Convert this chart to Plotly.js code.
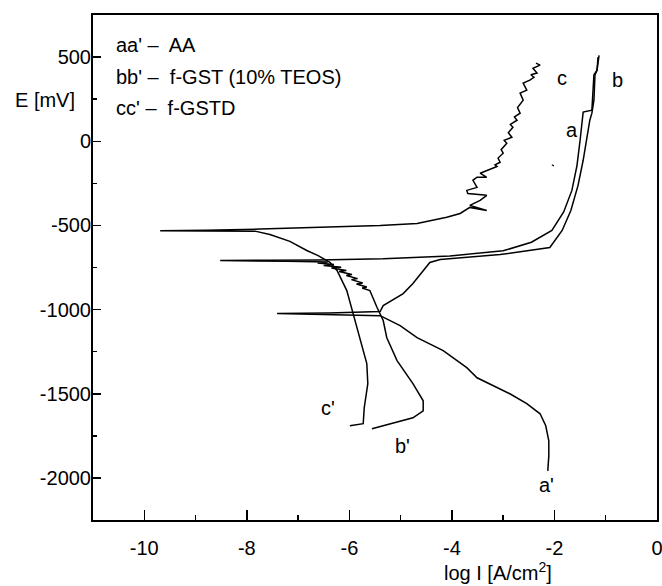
<!DOCTYPE html>
<html><head><meta charset="utf-8">
<script src="https://cdn.plot.ly/plotly-3.0.1.min.js"></script>
<style>html,body{margin:0;padding:0;background:#fff}#chart{width:662px;height:586px}</style>
</head><body><div id="chart"></div>
<script>
// Sample names (legend text)
const seriesKeys = ["aa'", "bb'", "cc'"];
const seriesNames = ["AA", "f-GST (10% TEOS)", "f-GSTD"];
const curveLabels = ["a", "a'", "b", "b'", "c", "c'"];

// Tick values and labels
const xTickVals = [-10, -8, -6, -4, -2, 0];
const xTickText = ["-10", "-8", "-6", "-4", "-2", "0"];
const yTickVals = [-2000, -1500, -1000, -500, 0, 500];
const yTickText = ["-2000", "-1500", "-1000", "-500", "0", "500"];

// AA: cathodic a' (bottom -> Ecorr), then anodic a
const aaLogI = [-2.13,-2.11,-2.11,-2.17,-2.28,-2.54,-2.87,-3.26,-3.51,-3.71,-4.17,-4.68,-5.01,-5.40,-6.4,-7.41,-6.4,-5.40,-5.34,-4.95,-4.76,-4.56,-4.43,-4.23,-3.06,-2.09,-1.85,-1.68,-1.54,-1.44,-1.37,-1.31,-1.27,-1.23,-1.21,-1.17,-1.13];
const aaE    = [-1958,-1869,-1780,-1690,-1619,-1559,-1500,-1440,-1405,-1345,-1244,-1167,-1095,-1036,-1028,-1024,-1020,-1012,-976,-905,-845,-768,-720,-702,-673,-631,-530,-411,-262,-113,6,125,167,244,393,423,510];

// f-GST (10% TEOS): cathodic b', then anodic b
const bbLogI = [-5.56,-5.21,-4.76,-4.56,-4.56,-4.76,-5.07,-5.27,-5.34,-5.46,-5.60,-5.75,-5.66,-5.86,-5.74,-5.96,-5.84,-6.06,-5.95,-6.20,-6.06,-6.35,-6.16,-6.50,-6.30,-6.62,-6.42,-7.2,-8.52,-7.6,-6.6,-5.34,-4.04,-3.00,-2.45,-2.05,-1.82,-1.66,-1.56,-1.50,-1.46,-1.44,-1.27,-1.25,-1.23,-1.17,-1.15];
const bbE    = [-1708,-1678,-1643,-1601,-1542,-1440,-1303,-1167,-1065,-988,-887,-872,-866,-848,-842,-822,-816,-798,-792,-774,-768,-753,-748,-738,-732,-724,-718,-713,-709,-707,-705,-698,-681,-651,-600,-530,-420,-292,-143,6,125,173,185,274,395,420,500];

// f-GSTD: cathodic c', then anodic c
const ccLogI = [-5.99,-5.73,-5.71,-5.67,-5.64,-5.66,-5.73,-5.85,-5.93,-6.05,-6.24,-6.38,-6.61,-6.83,-7.16,-7.55,-7.84,-8.8,-9.69,-8.8,-7.74,-6.38,-5.40,-4.68,-4.10,-3.84,-3.65,-3.32,-3.65,-3.45,-3.32,-3.69,-3.71,-3.51,-3.59,-3.51,-3.32,-3.45,-3.20,-3.12,-3.16,-3.06,-3.10,-3.00,-3.04,-2.93,-2.98,-2.83,-2.90,-2.81,-2.86,-2.73,-2.78,-2.67,-2.72,-2.61,-2.67,-2.54,-2.61,-2.48,-2.40,-2.46,-2.34,-2.42,-2.28,-2.36];
const ccE    = [-1690,-1678,-1583,-1482,-1440,-1321,-1244,-1107,-1024,-887,-768,-720,-679,-649,-595,-554,-534,-533,-531,-529,-522,-508,-500,-488,-452,-429,-393,-411,-381,-351,-321,-310,-292,-274,-232,-214,-214,-190,-161,-150,-140,-125,-100,-71,-50,-12,5,24,50,83,100,125,145,167,200,244,286,304,345,363,380,395,405,434,452,464];

// stray point in the data
const strayLogI = [-2.05,-2.01];
const strayE = [-140,-147];

const ln = {color:'#000', width:1.5};
const traces = [
  {x:aaLogI, y:aaE, mode:'lines', line:ln, name:seriesNames[0]},
  {x:bbLogI, y:bbE, mode:'lines', line:ln, name:seriesNames[1]},
  {x:ccLogI, y:ccE, mode:'lines', line:ln, name:seriesNames[2]},
  {x:strayLogI, y:strayE, mode:'lines', line:{color:'#000', width:1.2}, showlegend:false}
];

const F = {family:'"Liberation Sans", Arial, sans-serif', size:20, color:'#000'};
const labelPos = {"a":[-1.66,65], "a'":[-2.15,-2042], "b":[-0.78,363], "b'":[-4.97,-1809], "c":[-1.85,375], "c'":[-6.42,-1583]};
const legendY = [571, 381, 199];

const ann = [];
curveLabels.forEach(k => ann.push({x:labelPos[k][0], y:labelPos[k][1], xref:'x', yref:'y', text:k, showarrow:false, font:F, xanchor:'center', yanchor:'middle'}));
seriesKeys.forEach((k,i) => ann.push({x:-10.59, y:legendY[i], xref:'x', yref:'y', text:k + ' \u2013  ' + seriesNames[i], showarrow:false, font:F, xanchor:'left', yanchor:'middle'}));
ann.push({x:-0.085, y:0.832, xref:'paper', yref:'paper', text:'E [mV]', showarrow:false, font:F, xanchor:'center', yanchor:'middle'});
ann.push({x:0.718, y:-0.128, xref:'paper', yref:'paper', text:'log I [A/cm<sup>2</sup>]', showarrow:false, font:F, xanchor:'center', yanchor:'bottom', borderpad:0});

const layout = {
  width:662, height:586,
  margin:{l:93, r:5, t:15, b:66},
  paper_bgcolor:'#fff', plot_bgcolor:'#fff',
  showlegend:false,
  font:F,
  xaxis:{range:[-11,0], tickmode:'array', tickvals:xTickVals, ticktext:xTickText, ticks:'inside', ticklen:10, tickwidth:1.5, tickcolor:'#000',
         showline:true, linewidth:2, linecolor:'#000', mirror:true, showgrid:false, zeroline:false,
         tickfont:F, ticklabelstandoff:9, ticklabeloverflow:'allow',
         minor:{dtick:1, ticks:'inside', ticklen:5, tickwidth:1.5, tickcolor:'#000', showgrid:false}},
  yaxis:{range:[-2250,750], tickmode:'array', tickvals:yTickVals, ticktext:yTickText, ticks:'inside', ticklen:8, tickwidth:1.5, tickcolor:'#000',
         showline:true, linewidth:2, linecolor:'#000', mirror:true, showgrid:false, zeroline:false,
         tickfont:F, ticklabelstandoff:-4, ticklabeloverflow:'allow',
         minor:{dtick:250, ticks:'inside', ticklen:4, tickwidth:1.5, tickcolor:'#000', showgrid:false}},
  annotations:ann
};
Plotly.newPlot('chart', traces, layout, {staticPlot:true, displayModeBar:false});
</script></body></html>
